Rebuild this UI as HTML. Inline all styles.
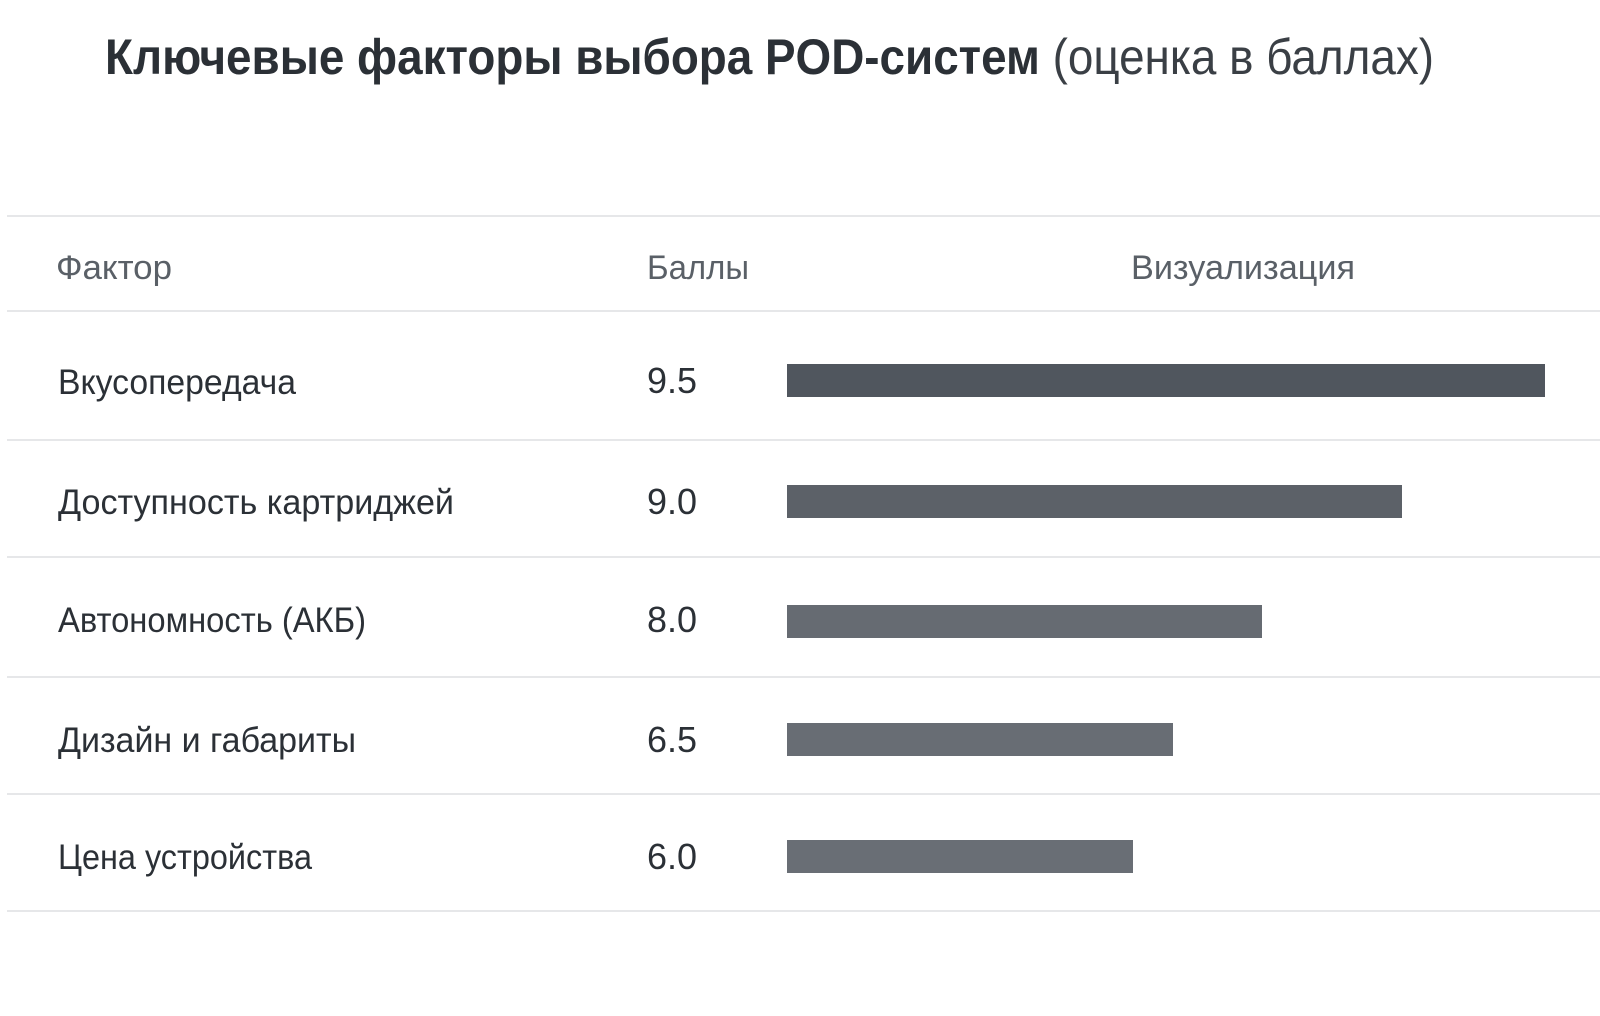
<!DOCTYPE html>
<html><head><meta charset="utf-8"><style>
html,body{margin:0;padding:0;background:#fff;}
svg{display:block;}
text{font-family:"Liberation Sans","DejaVu Sans",sans-serif;}
</style></head><body>
<svg width="1600" height="1016" viewBox="0 0 1600 1016" xmlns="http://www.w3.org/2000/svg">
<rect width="1600" height="1016" fill="#fff"/>
<text x="105" y="74" font-size="50" font-weight="bold" fill="#2b3036" textLength="1329" lengthAdjust="spacingAndGlyphs"><tspan>Ключевые факторы выбора POD-систем </tspan><tspan font-weight="normal" fill="#3a3f45">(оценка в баллах)</tspan></text>
<g stroke="#e6e7e9" stroke-width="2">
<line x1="7" y1="216" x2="1600" y2="216"/>
<line x1="7" y1="311" x2="1600" y2="311"/>
<line x1="7" y1="440" x2="1600" y2="440"/>
<line x1="7" y1="557" x2="1600" y2="557"/>
<line x1="7" y1="677" x2="1600" y2="677"/>
<line x1="7" y1="794" x2="1600" y2="794"/>
<line x1="7" y1="911" x2="1600" y2="911"/>
</g>
<g font-size="34" fill="#5a6067">
<text x="56" y="279" textLength="116" lengthAdjust="spacingAndGlyphs">Фактор</text>
<text x="647" y="279" textLength="102" lengthAdjust="spacingAndGlyphs">Баллы</text>
<text x="1131" y="279" textLength="224" lengthAdjust="spacingAndGlyphs">Визуализация</text>
</g>
<g font-size="35" fill="#2b3036">
<text x="58" y="394" textLength="238" lengthAdjust="spacingAndGlyphs">Вкусопередача</text>
<text x="58" y="514" textLength="396" lengthAdjust="spacingAndGlyphs">Доступность картриджей</text>
<text x="58" y="632" textLength="308" lengthAdjust="spacingAndGlyphs">Автономность (АКБ)</text>
<text x="58" y="752" textLength="298" lengthAdjust="spacingAndGlyphs">Дизайн и габариты</text>
<text x="58" y="869" textLength="254" lengthAdjust="spacingAndGlyphs">Цена устройства</text>
</g>
<g font-size="36" fill="#2b3036">
<text x="647" y="393">9.5</text>
<text x="647" y="514">9.0</text>
<text x="647" y="632">8.0</text>
<text x="647" y="752">6.5</text>
<text x="647" y="869">6.0</text>
</g>
<rect x="787" y="364" width="758" height="33" fill="#50565e"/>
<rect x="787" y="485" width="615" height="33" fill="#5c6168"/>
<rect x="787" y="605" width="475" height="33" fill="#666b72"/>
<rect x="787" y="723" width="386" height="33" fill="#686d74"/>
<rect x="787" y="840" width="346" height="33" fill="#696e75"/>
</svg>
</body></html>
